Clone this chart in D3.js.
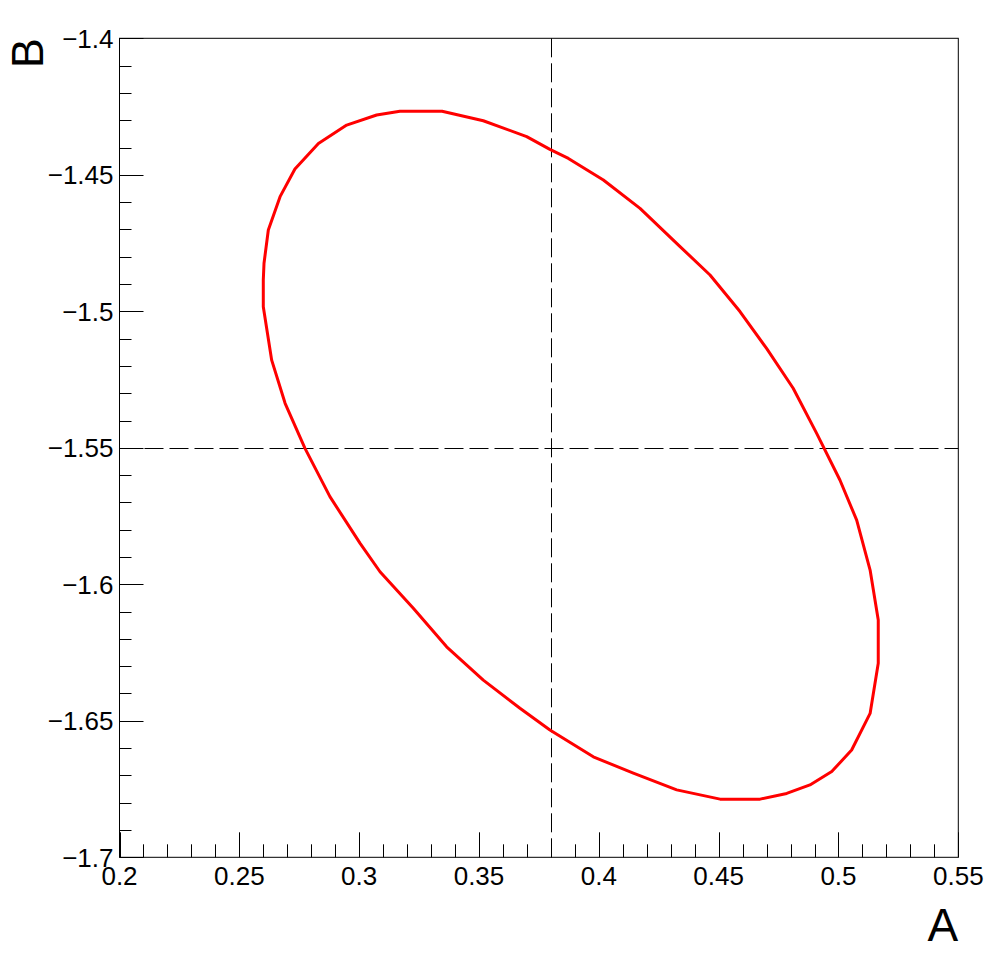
<!DOCTYPE html>
<html lang="en">
  <head>
    <meta charset="utf-8"/>
    <title>Contour A vs B</title>
    <script src="https://cdn.jsdelivr.net/npm/d3@7"></script>
    <style>
      body { margin: 0; background: #fff; }
      text { font-family: "Liberation Sans", Arial, Helvetica, sans-serif; fill: #000; }
    </style>
  </head>
  <body>
    <div id="chart"></div>
    <script type="text/javascript">

      var contourA = [0.3170, 0.3346, 0.3518, 0.3699, 0.3796, 0.3873, 0.4019, 0.4172, 0.4339, 0.4464,
                      0.4589, 0.4700, 0.4811, 0.4909, 0.5006, 0.5076, 0.5132, 0.5166, 0.5166, 0.5132,
                      0.5055, 0.4972, 0.4881, 0.4784, 0.4673, 0.4506, 0.4325, 0.4144, 0.3977, 0.3796,
                      0.3671, 0.3518, 0.3365, 0.3226, 0.3087, 0.3004, 0.2878, 0.2774, 0.2691, 0.2635,
                      0.2600, 0.2600, 0.2603, 0.2621, 0.2670, 0.2732, 0.2830, 0.2948, 0.3073];
      var contourB = [-1.4267, -1.4267, -1.4302, -1.4360, -1.4407, -1.4440, -1.4519, -1.4623, -1.4763, -1.4867,
                      -1.5001, -1.5136, -1.5282, -1.5447, -1.5618, -1.5765, -1.5948, -1.6131, -1.6289, -1.6473,
                      -1.6607, -1.6686, -1.6735, -1.6766, -1.6787, -1.6787, -1.6753, -1.6692, -1.6632, -1.6534,
                      -1.6454, -1.6351, -1.6229, -1.6088, -1.5954, -1.5850, -1.5679, -1.5502, -1.5337, -1.5179,
                      -1.4983, -1.4885, -1.4824, -1.4702, -1.4580, -1.4479, -1.4385, -1.4318, -1.4281];

      // best fit point (dashed cross)
      var bestA = 0.38;
      var bestB = -1.55;

      // axis ranges and tick labels
      var xDomain = [0.2, 0.55];
      var yDomain = [-1.7, -1.4];
      var xTicks = [0.2, 0.25, 0.3, 0.35, 0.4, 0.45, 0.5, 0.55];
      var yTicks = [-1.7, -1.65, -1.6, -1.55, -1.5, -1.45, -1.4];
      var xLabel = "A";
      var yLabel = "B";

      var w = 998;
      var h = 974;
      // frame edges in pixels (note: "top" is reserved by window, so prefix)
      var padLeft = 119.5, padRight = 958.3, padTop = 38.3, padBottom = 857.3;

      var svg = d3.select("#chart")
        .append("svg")
        .attr("width", w)
        .attr("height", h)
      ;

      var x = d3.scaleLinear().domain(xDomain).range([padLeft, padRight]);
      var y = d3.scaleLinear().domain(yDomain).range([padBottom, padTop]);

      // minor ticks every 0.01
      var xMinor = d3.range(0, 36).map(function(i) { return +(0.2 + i * 0.01).toFixed(2); });
      var yMinor = d3.range(0, 31).map(function(i) { return +(-1.7 + i * 0.01).toFixed(2); });

      function isMajor(list, d) {
        return list.some(function(t) { return Math.abs(t - d) < 1e-6; });
      }
      function fmt(d) { return String(d).replace("-", "\u2212"); }
      // snap to pixel centre so 1px lines stay crisp
      function crisp(v) { return Math.round(v) + 0.5; }

      // frame
      svg.append("rect")
        .attr("x", padLeft)
        .attr("y", padTop)
        .attr("width", padRight - padLeft)
        .attr("height", padBottom - padTop)
        .attr("fill", "none")
        .attr("stroke", "#000")
        .attr("stroke-width", 1)
      ;

      // x axis ticks (pointing up into the frame)
      var xAxis = svg.append("g").attr("class", "x-axis");
      xAxis.selectAll("line")
        .data(xMinor)
        .enter()
        .append("line")
        .attr("x1", function(d) { return crisp(x(d)); })
        .attr("x2", function(d) { return crisp(x(d)); })
        .attr("y1", padBottom)
        .attr("y2", function(d) { return isMajor(xTicks, d) ? padBottom - 25 : padBottom - 13; })
        .attr("stroke", "#000")
        .attr("stroke-width", 1)
      ;
      xAxis.selectAll("text")
        .data(xTicks)
        .enter()
        .append("text")
        .attr("x", function(d) { return x(d); })
        .attr("y", padBottom + 28)
        .attr("text-anchor", "middle")
        .style("font-size", "26px")
        .text(fmt)
      ;

      // y axis ticks (pointing right into the frame)
      var yAxis = svg.append("g").attr("class", "y-axis");
      yAxis.selectAll("line")
        .data(yMinor)
        .enter()
        .append("line")
        .attr("y1", function(d) { return crisp(y(d)); })
        .attr("y2", function(d) { return crisp(y(d)); })
        .attr("x1", padLeft)
        .attr("x2", function(d) { return isMajor(yTicks, d) ? padLeft + 24 : padLeft + 12; })
        .attr("stroke", "#000")
        .attr("stroke-width", 1)
      ;
      yAxis.selectAll("text")
        .data(yTicks)
        .enter()
        .append("text")
        .attr("x", padLeft - 6)
        .attr("y", function(d) { return y(d); })
        .attr("dy", "0.36em")
        .attr("text-anchor", "end")
        .style("font-size", "26px")
        .text(fmt)
      ;

      // axis titles
      svg.append("text")
        .attr("x", padRight)
        .attr("y", 941)
        .attr("text-anchor", "end")
        .style("font-size", "46px")
        .text(xLabel)
      ;
      svg.append("text")
        .attr("transform", "translate(43," + padTop + ")rotate(-90)")
        .attr("text-anchor", "end")
        .style("font-size", "45px")
        .text(yLabel)
      ;

      // dashed lines through the best fit point
      svg.append("line")
        .attr("x1", crisp(x(bestA))).attr("x2", crisp(x(bestA)))
        .attr("y1", padTop).attr("y2", padBottom)
        .attr("stroke", "#000")
        .attr("stroke-width", 1)
        .attr("stroke-dasharray", "19,6")
      ;
      svg.append("line")
        .attr("x1", padLeft).attr("x2", padRight)
        .attr("y1", crisp(y(bestB))).attr("y2", crisp(y(bestB)))
        .attr("stroke", "#000")
        .attr("stroke-width", 1)
        .attr("stroke-dasharray", "19,6")
      ;

      // the contour
      var pts = contourA.map(function(a, i) { return [a, contourB[i]]; });
      var line = d3.line()
        .x(function(d) { return x(d[0]); })
        .y(function(d) { return y(d[1]); })
        .curve(d3.curveLinearClosed)
      ;
      svg.append("path")
        .datum(pts)
        .attr("d", line)
        .attr("fill", "none")
        .attr("stroke", "#ff0000")
        .attr("stroke-width", 3)
        .attr("stroke-linejoin", "round")
      ;
    </script>
  </body>
</html>
